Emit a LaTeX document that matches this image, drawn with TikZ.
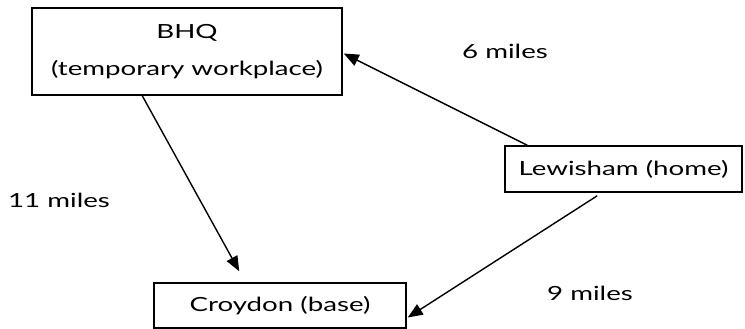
\documentclass[tikz,border=0pt]{standalone}
\usepackage{fontspec}
\setmainfont{Lato}[FakeStretch=1.42]
\usetikzlibrary{arrows.meta,calc}
\begin{document}
\begin{tikzpicture}[x=1pt,y=-1pt,
  box/.style={draw,line width=1.5pt,rectangle,inner sep=0pt,align=center,font=\fontsize{19.5pt}{37pt}\selectfont},
  lbl/.style={font=\fontsize{19.5pt}{23pt}\selectfont,inner sep=0pt},
  arr/.style={line width=1.4pt,-{Triangle[length=15pt,width=12pt]}}]
\useasboundingbox (0,0) rectangle (745,329);
\node[box,minimum width=310pt,minimum height=87pt] (bhq) at (187,51.5) {BHQ\\(temporary workplace)};
\node[box,minimum width=237pt,minimum height=46pt] (lew) at (623.5,169) {Lewisham (home)};
\node[box,minimum width=252pt,minimum height=45pt] (cro) at (280,305.5) {Croydon (base)};
\node[lbl] (l6) at (505,51) {6 miles};
\node[lbl] (l11) at (59,200) {11 miles};
\node[lbl] (l9) at (590,293) {9 miles};
\coordinate (a1s) at ($(lew.north west)+(23,0)$);
\coordinate (a1e) at ($(bhq.east)+(1,2)$);
\coordinate (a2s) at ($(bhq.south west)+(111,0)$);
\coordinate (a2e) at ($(cro.north west)+(86,-11)$);
\coordinate (a3s) at ($(lew.south west)+(93,3)$);
\coordinate (a3e) at ($(cro.east)+(1,12)$);
\draw[arr] (a1s) -- (a1e);
\draw[arr] (a2s) -- (a2e);
\draw[arr] (a3s) -- (a3e);
\end{tikzpicture}
\end{document}
